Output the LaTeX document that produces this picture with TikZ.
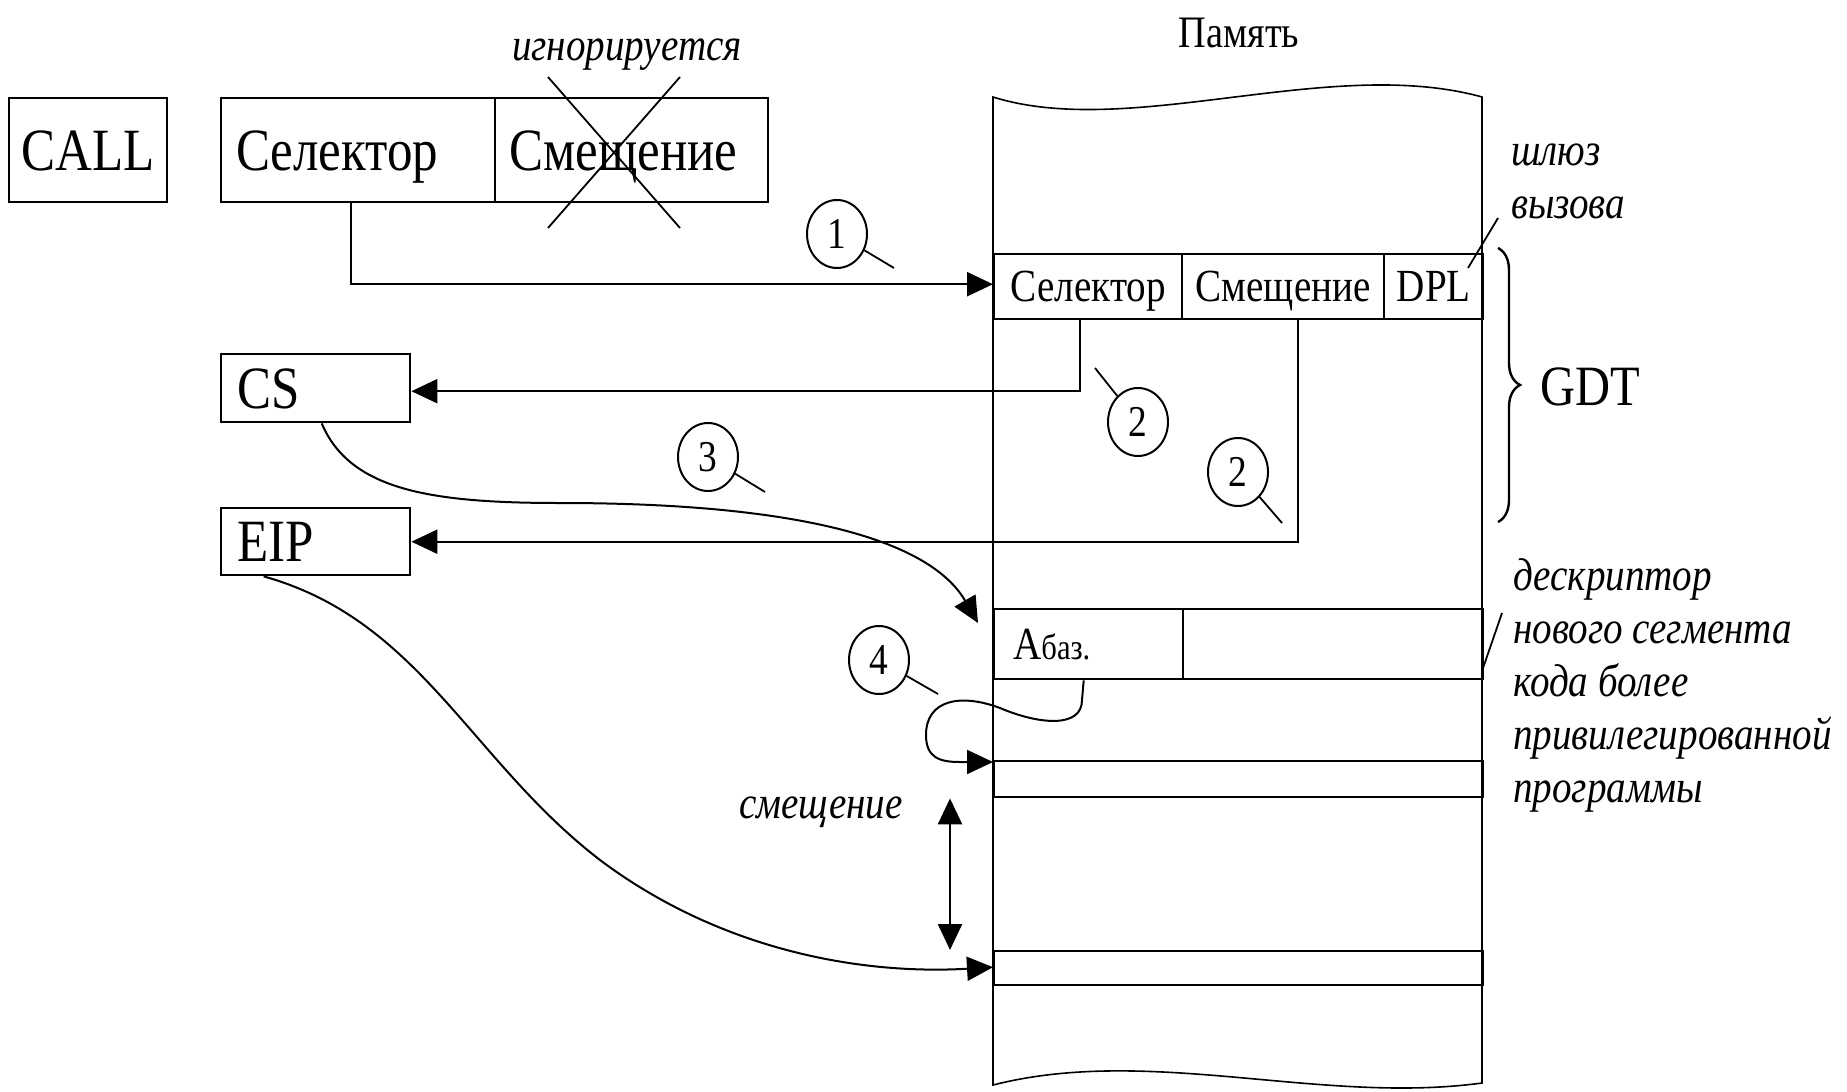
\documentclass[tikz,border=0pt]{standalone}
\usepackage{fontspec}
\setmainfont{Liberation Serif}[FakeStretch=0.85]
\usetikzlibrary{arrows.meta,shapes.geometric,decorations.pathreplacing}
\newcommand\fbig{\fontsize{60}{66}\selectfont}
\newcommand\fmid{\fontsize{46}{50}\selectfont}
\newcommand\fita{\itshape\fontsize{46}{53}\selectfont}
\newcommand\fnum{\fontsize{44}{46}\selectfont}
\begin{document}
\begin{tikzpicture}[x=1pt,y=-1pt,
  bx/.style={draw, line width=2.4pt, inner sep=0pt, anchor=north west, text depth=0pt},
  bigbx/.style={bx, font=\fbig, text height=40pt},
  midbx/.style={bx, font=\fmid, text height=30.5pt},
  row/.style={draw, line width=2.4pt, inner sep=0pt, anchor=north west},
  num/.style={draw, ellipse, line width=2pt, inner sep=0pt, minimum width=60pt, minimum height=68pt, font=\fnum},
  lbl/.style={inner sep=0pt, font=\fita},
  conn/.style={line width=2.4pt, -{Triangle[length=26pt,width=24pt]}},
  curv/.style={line width=2pt, -{Triangle[length=26pt,width=24pt]}},
  tail/.style={line width=1.8pt},
  mem/.style={line width=1.6pt}]
\useasboundingbox (0,0) rectangle (1847,1092);
% memory column
\draw[mem] (993,97) .. controls (1130,140) and (1330,55) .. (1482,97)
  -- (1482,1083) .. controls (1320,1105) and (1150,1045) .. (993,1085) -- cycle;
\node[inner sep=0pt, font=\fontsize{45}{50}\selectfont, anchor=base] (mem) at (1239,47) {Память};
% instruction
\node[bigbx, minimum width=158pt, minimum height=104pt] (call) at (8,97) {CALL};
\node[bigbx, minimum width=274pt, minimum height=104pt, text width=244pt, inner xsep=15pt, align=left] (tsel) at (220,97) {Селектор};
\node[bigbx, minimum width=273pt, minimum height=104pt, text width=245pt, inner xsep=14pt, align=left] (toff) at (494,97) {Смещение};
\draw[line width=1.8pt] (548,77) -- (680,228) (680,77) -- (548,228);
\node[lbl, anchor=base] (ign) at (627,60) {игнорируется};
% gate
\node[midbx, minimum width=188pt, minimum height=65pt] (gsel) at (993,253) {Селектор};
\node[midbx, minimum width=202pt, minimum height=65pt] (goff) at (1181,253) {Смещение};
\node[midbx, minimum width=99pt, minimum height=65pt] (gdpl) at (1383,253) {DPL};
\node[lbl, anchor=base west] (gw1) at (1511,165) {шлюз};
\node[lbl, anchor=base west] (gw2) at (1511,218) {вызова};
\coordinate (gp) at (1498,218);
\draw[tail] (1468,268) -- (gp);
\draw[line width=2.4pt, decorate, decoration={brace, amplitude=22pt}] (1498,248) -- (1498,522);
\node[inner sep=0pt, font=\fontsize{57}{60}\selectfont, anchor=base west] (gdt) at (1540,405) {GDT};
% registers
\node[bigbx, minimum width=189pt, minimum height=68pt, text width=157pt, inner xsep=16pt, align=left] (cs) at (220,353) {CS};
\node[bigbx, minimum width=189pt, minimum height=67pt, text width=157pt, inner xsep=16pt, align=left] (eip) at (220,507) {EIP};
% new descriptor and rows
\node[bx, minimum width=189pt, minimum height=70pt, text width=151pt, inner xsep=19pt, align=left, text height=30.5pt] (abase) at (993,608) {{\fmid А}{\fontsize{36}{40}\selectfont баз.}};
\node[row, minimum width=300pt, minimum height=70pt] (arest) at (1182,608) {};
\node[row, minimum width=489pt, minimum height=36pt] (row3) at (993,760) {};
\node[row, minimum width=489pt, minimum height=34pt] (row4) at (993,950) {};
\draw[tail] (1482,671) -- (1502,613);
\node[lbl, anchor=base west] (d1) at (1513,590) {дескриптор};
\node[lbl, anchor=base west] (d2) at (1513,643) {нового сегмента};
\node[lbl, anchor=base west] (d3) at (1513,696) {кода более};
\node[lbl, anchor=base west] (d4) at (1513,749) {привилегированной};
\node[lbl, anchor=base west] (d5) at (1513,802) {программы};
\node[lbl, anchor=base] (off) at (821,818) {смещение};
% numbered markers
\node[num] (c1) at (837,234) {1};
\node[num] (c2a) at (1138,422) {2};
\node[num] (c2b) at (1238,472) {2};
\node[num] (c3) at (708,457) {3};
\node[num] (c4) at (879,660) {4};
\coordinate (t1) at (894,268);
\coordinate (t2a) at (1095,368);
\coordinate (t2b) at (1282,523);
\coordinate (t3) at (765,492);
\coordinate (t4) at (938,694);
\draw[tail] (c1) -- (t1);
\draw[tail] (c2a) -- (t2a);
\draw[tail] (c2b) -- (t2b);
\draw[tail] (c3) -- (t3);
\draw[tail] (c4) -- (t4);
% connectors
\draw[conn] ([xshift=-7pt]tsel.south) |- ([yshift=2.5pt]gsel.west);
\draw[conn] ([xshift=-8pt]gsel.south) |- ([yshift=-3pt]cs.east);
\draw[conn] ([xshift=15pt]goff.south) |- (eip.east);
\draw[curv] ([xshift=6pt]cs.south) .. controls (350,490) and (430,503) .. (560,503)
  .. controls (800,503) and (930,540) .. ([xshift=-15pt,yshift=-15pt]abase.north west);
\draw[curv] ([xshift=-52pt]eip.south) .. controls (420,620) and (470,760) .. (600,860)
  .. controls (720,950) and (860,975) .. ([yshift=1pt]row4.west);
\draw[curv] ([xshift=-5pt]abase.south) -- (1082,700) .. controls (1082,728) and (1040,725) .. (1000,708)
  .. controls (960,693) and (926,700) .. (926,735) .. controls (926,758) and (940,762) .. (960,762)
  -- ([yshift=-2pt]row3.north west);
\draw[line width=2.4pt, {Triangle[length=26pt,width=24pt]}-{Triangle[length=26pt,width=24pt]}] ([xshift=-43pt]row3.south west) -- ([xshift=-43pt]row4.north west);
\end{tikzpicture}
\end{document}
